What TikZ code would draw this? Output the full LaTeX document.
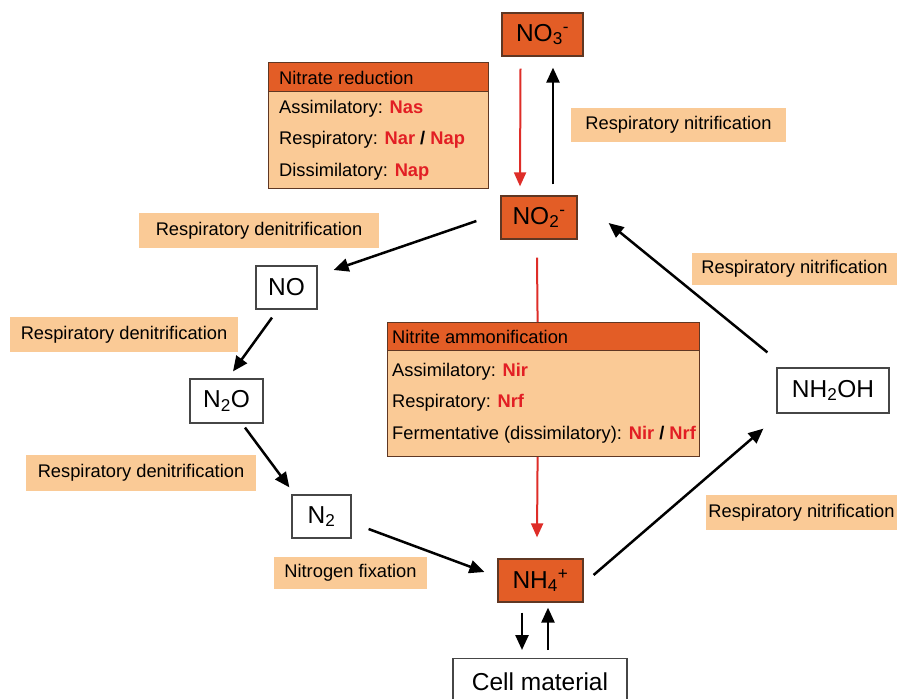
\documentclass[tikz,border=0pt]{standalone}
\usepackage{fontspec}
\setmainfont{Liberation Sans}
\usetikzlibrary{arrows.meta,calc}
\definecolor{dorange}{RGB}{227,93,38}
\definecolor{peach}{RGB}{250,202,150}
\definecolor{enzred}{RGB}{226,30,36}
\definecolor{arrred}{RGB}{222,45,40}
\definecolor{bord}{RGB}{95,55,35}
\definecolor{gbord}{RGB}{70,70,70}
\newcommand\enz[1]{\textcolor{enzred}{\textbf{#1}}}
\newcommand\fsm{\fontsize{18.3}{22}\selectfont}
\newcommand\fbig{\fontsize{24.5}{28}\selectfont}
\begin{document}
\begin{tikzpicture}[x=1pt,y=-1pt,
  chem/.style={draw=bord,line width=1.2pt,fill=dorange,inner sep=0pt,font=\fbig},
  wchem/.style={draw=gbord,line width=1.2pt,fill=white,inner sep=0pt,font=\fbig},
  hdr/.style={draw=bord,line width=1.2pt,fill=dorange,inner sep=0pt,anchor=north west},
  bodybox/.style={draw=bord,line width=1.2pt,fill=peach,inner sep=0pt,anchor=north west},
  rowtxt/.style={inner sep=0pt,anchor=base west,font=\fsm},
  lbl/.style={fill=peach,inner sep=0pt,font=\fsm},
  arr/.style={line width=2.5pt,-{Triangle[length=15pt,width=13pt]}},
  rarr/.style={line width=2pt,draw=arrred,-{Triangle[length=14pt,width=12pt]}},
  rline/.style={line width=2pt,draw=arrred}]
\useasboundingbox (0,0) rectangle (898,699);

% chemical species
\node[chem,minimum width=81pt,minimum height=43pt] (no3) at (542.5,34.5) {NO\textsubscript{3}\textsuperscript{-}};
\node[chem,minimum width=76pt,minimum height=43pt] (no2) at (539,217.5) {NO\textsubscript{2}\textsuperscript{-}};
\node[chem,minimum width=85pt,minimum height=43pt] (nh4) at (540.5,580.5) {NH\textsubscript{4}\textsuperscript{+}};
\node[wchem,minimum width=61pt,minimum height=43pt] (no) at (286.5,287.5) {NO};
\node[wchem,minimum width=73pt,minimum height=44pt] (n2o) at (226.5,401) {N\textsubscript{2}O};
\node[wchem,minimum width=59pt,minimum height=43pt] (n2) at (321.5,516.5) {N\textsubscript{2}};
\node[wchem,minimum width=112pt,minimum height=45pt] (nh2oh) at (833,390.5) {NH\textsubscript{2}OH};
\node[wchem,minimum width=174pt,minimum height=52pt,anchor=north] (cell) at (540,658) {\raisebox{6pt}{Cell material}};

% nitrate reduction box
\node[hdr,minimum width=220pt,minimum height=29pt] (nrh) at (268,62) {};
\node[bodybox,minimum width=220pt,minimum height=97pt] (nrb) at (268,91) {};
\node[rowtxt] (nrt) at (279,84.5) {Nitrate reduction};
\node[rowtxt] (nr1) at (279,113.5) {Assimilatory: \enz{Nas}};
\node[rowtxt] (nr2) at (279,144.5) {Respiratory: \enz{Nar} \textbf{/} \enz{Nap}};
\node[rowtxt] (nr3) at (279,176.5) {Dissimilatory: \enz{Nap}};

% nitrite ammonification box
\node[hdr,minimum width=312pt,minimum height=28pt] (amh) at (387,322) {};
\node[bodybox,minimum width=312pt,minimum height=106pt] (amb) at (387,350) {};
\node[rowtxt] (amt) at (392,343.5) {Nitrite ammonification};
\node[rowtxt] (am1) at (392,376.5) {Assimilatory: \enz{Nir}};
\node[rowtxt] (am2) at (392,407.5) {Respiratory: \enz{Nrf}};
\node[rowtxt] (am3) at (392,439.5) {Fermentative (dissimilatory): \enz{Nir} \textbf{/} \enz{Nrf}};

% process labels
\node[lbl,minimum width=215pt,minimum height=34pt] (l1) at (678.5,125) {Respiratory nitrification};
\node[lbl,minimum width=240pt,minimum height=35pt] (l2) at (259,230.5) {Respiratory denitrification};
\node[lbl,minimum width=228pt,minimum height=35pt] (l3) at (124,334.5) {Respiratory denitrification};
\node[lbl,minimum width=230pt,minimum height=36pt] (l4) at (141,473) {Respiratory denitrification};
\node[lbl,minimum width=153pt,minimum height=32pt] (l5) at (350.5,573) {Nitrogen fixation};
\node[lbl,minimum width=205pt,minimum height=32pt] (l6) at (794.5,269) {Respiratory nitrification};
\node[lbl,minimum width=191pt,minimum height=35pt] (l7) at (801.5,512.5) {Respiratory nitrification};

% connectors
\draw[rarr] ($(no3.south)+(-22,12)$) -- ($(no2.north)+(-19,-9)$);
\draw[arr] ($(no2.north)+(14,-11)$) -- ($(no3.south)+(10.5,11)$);
\draw[arr] ($(no2.west)+(-24,3.5)$) -- ($(no.east)+(16,-17.5)$);
\draw[arr] ($(no.south)+(-14.5,8)$) -- ($(n2o.north)+(6.5,-7)$);
\draw[arr] ($(n2o.south)+(18.5,4)$) -- ($(n2.north west)+(-2,-7)$);
\draw[arr] ($(n2.east)+(17,12.5)$) -- ($(nh4.west)+(-13,-8.5)$);
\draw[arr] ($(nh4.east)+(10,-5.5)$) -- ($(nh2oh.south west)+(-13,15)$);
\draw[arr] ($(nh2oh.north west)+(-9,-15)$) -- ($(no2.east)+(31,5.5)$);
\draw[arr] ($(nh4.south)+(-18.5,10)$) -- ($(cell.north)+(-18,-8)$);
\draw[arr] ($(cell.north)+(8,-8)$) -- ($(nh4.south)+(7.5,5)$);
\draw[rline] ($(no2.south)+(-2,18)$) -- ($(amh.north)+(-6,0)$);
\draw[rarr] ($(amb.south)+(-6,0)$) -- ($(nh4.north)+(-3.5,-21)$);
\end{tikzpicture}
\end{document}
